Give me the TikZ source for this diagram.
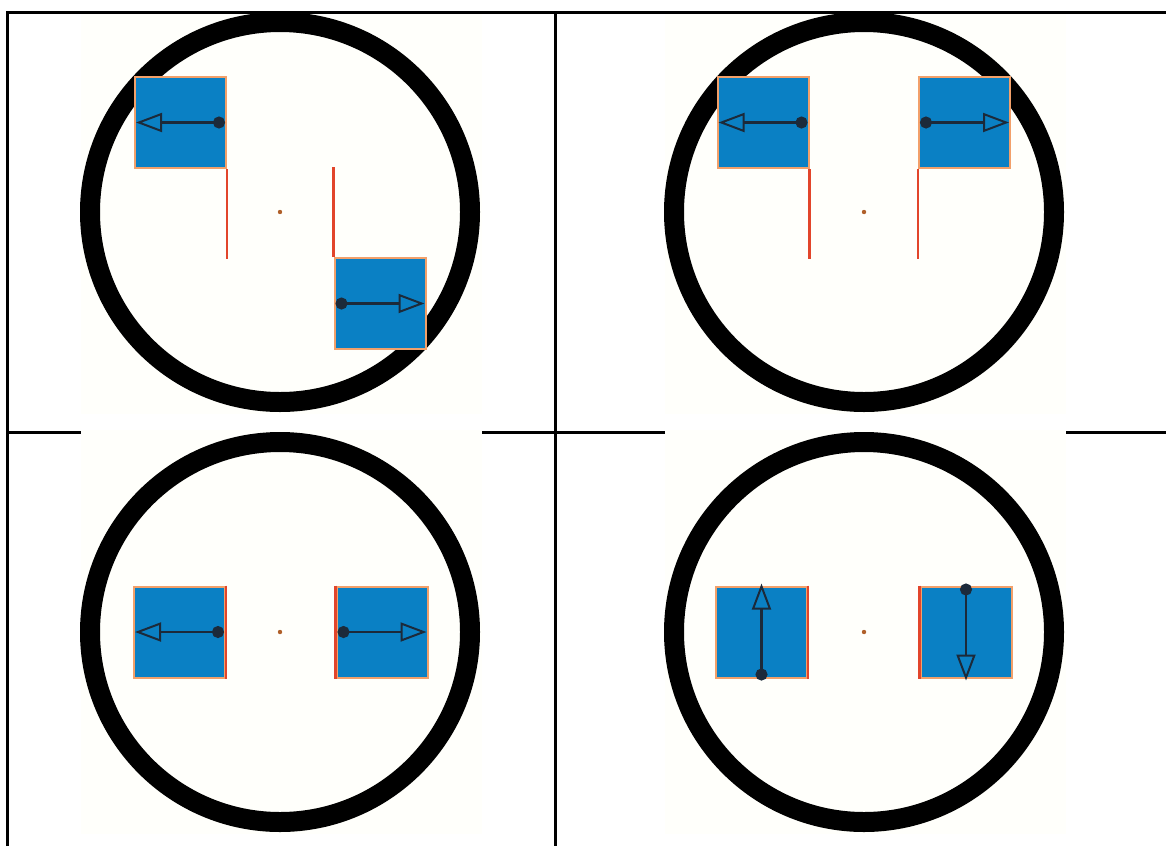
\documentclass[tikz,border=0pt]{standalone}
\usepackage{xcolor}
\usepackage{tikz}
\usetikzlibrary{arrows.meta, calc, positioning}
\definecolor{paper}{HTML}{FFFFFB}
\definecolor{boxblue}{HTML}{0A80C4}
\definecolor{boxedge}{HTML}{F2A06A}
\definecolor{redline}{HTML}{E2452B}
\definecolor{vecink}{HTML}{1C2A3A}
\definecolor{centre}{HTML}{B0602A}

\tikzset{
  magnet/.style={rectangle, fill=boxblue, draw=boxedge, line width=2pt,
                 minimum size=91pt, inner sep=0pt},
  wire/.style={redline, line width=2.2pt},
  moment/.style={vecink, line width=2.4pt,
                 {Circle[length=12pt]}-{Triangle[open, length=26pt, width=19pt, line width=2pt]}},
  ring/.style={line width=20pt}
}

\begin{document}
\begin{tikzpicture}[x=1pt, y=-1pt]
  \useasboundingbox (0,0) rectangle (1166,846);
  % table rules
  \draw[line width=3pt] (7,846) -- (7,12) -- (1166,12);
  \draw[line width=3pt] (555,12) -- (555,846);
  \draw[line width=3pt] (7,432) -- (1166,432);
  % picture backgrounds and the four rings with their centres
  \foreach \cx/\cy/\top in {280/212/198, 864/212/198, 280/632/202, 864/632/202}{
    \fill[paper] (\cx-199,\cy-\top) rectangle (\cx+202,\cy+202);
    \draw[ring] (\cx,\cy) circle (190);
    \fill[centre] (\cx,\cy) circle (2.2pt);
  }

  % top left: shifted pair
  \node[magnet] (tlA) at (180.5,122.5) {};
  \node[magnet] (tlB) at (380,303.5) {};
  \coordinate (tlAend) at ($(tlA.south east)+(0,90)$);
  \coordinate (tlBtop) at ($(tlB.north west)+(0,-90)$);
  \draw[wire] (tlA.south east) -- (tlAend);
  \draw[wire] (tlB.north west) -- (tlBtop);
  \draw[moment] ([xshift=-2pt]tlA.east) -- ([xshift=2pt]tlA.west);
  \draw[moment] ([xshift=2pt]tlB.west) -- ([xshift=-2pt]tlB.east);

  % top right: both up
  \node[magnet] (trA) at (763,122.5) {};
  \node[magnet] (trB) at (964.5,122.5) {};
  \coordinate (trAend) at ($(trA.south east)+(0,90)$);
  \coordinate (trBend) at ($(trB.south west)+(0,90)$);
  \draw[wire] (trA.south east) -- (trAend);
  \draw[wire] (trB.south west) -- (trBend);
  \draw[moment] ([xshift=-2pt]trA.east) -- ([xshift=2pt]trA.west);
  \draw[moment] ([xshift=2pt]trB.west) -- ([xshift=-2pt]trB.east);

  % bottom left: side by side, horizontal moments
  \node[magnet] (blA) at (179.5,632) {};
  \node[magnet] (blB) at (382,632) {};
  \draw[wire] (blA.north east) -- (blA.south east);
  \draw[wire] (blB.north west) -- (blB.south west);
  \draw[moment] ([xshift=-2pt]blA.east) -- ([xshift=2pt]blA.west);
  \draw[moment] ([xshift=2pt]blB.west) -- ([xshift=-2pt]blB.east);

  % bottom right: side by side, vertical moments
  \node[magnet] (brA) at (761.5,632) {};
  \node[magnet] (brB) at (966,632) {};
  \draw[wire] (brA.north east) -- (brA.south east);
  \draw[wire] (brB.north west) -- (brB.south west);
  \draw[moment] ([yshift=-2pt]brA.south) -- ([yshift=2pt]brA.north);
  \draw[moment] ([yshift=2pt]brB.north) -- ([yshift=-2pt]brB.south);
\end{tikzpicture}
\end{document}
